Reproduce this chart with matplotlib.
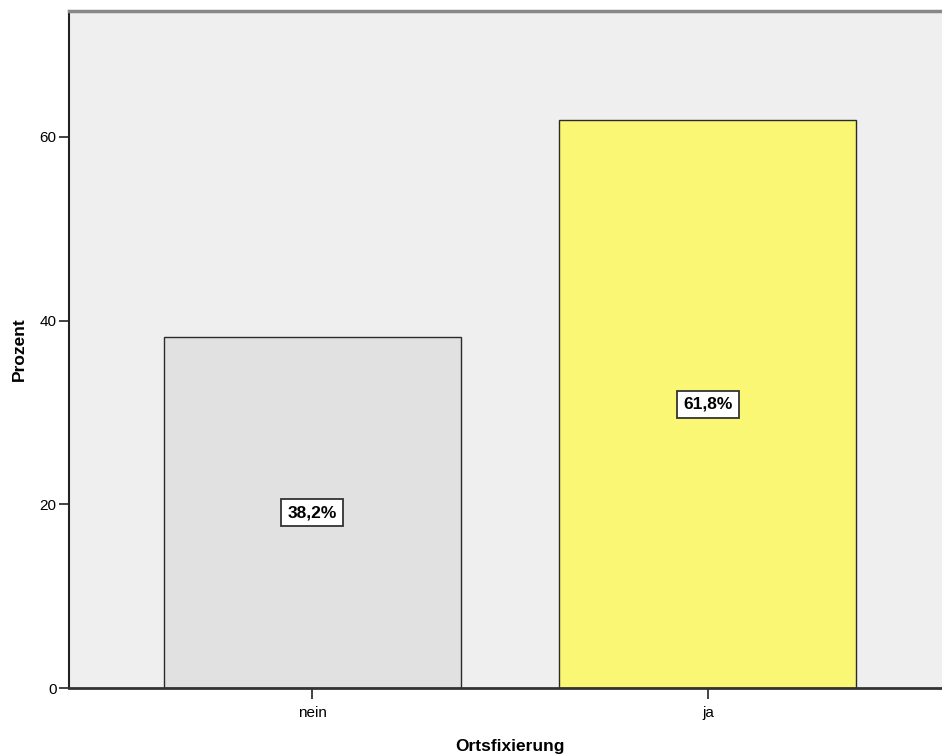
import matplotlib
matplotlib.use("Agg")
import matplotlib.pyplot as plt

categories = ["nein", "ja"]
values = [38.2, 61.8]
labels = ["38,2%", "61,8%"]
colors = ["#e1e1e1", "#f9f774"]
yticks = [0, 20, 40, 60]

plt.rcParams['font.family'] = ['Liberation Sans', 'DejaVu Sans']

fig = plt.figure(figsize=(9.42, 7.54), dpi=100)
ax = fig.add_axes([69/942, 66/754, (951-69)/942, (688-11)/754])
ax.set_facecolor("#efefef")

x = list(range(len(categories)))
ax.bar(x, values, width=0.75, color=colors, edgecolor="#2b2b2b", linewidth=1.0, zorder=2)
for xi, v, lab in zip(x, values, labels):
    ax.text(xi, v / 2, lab, ha="center", va="center", fontsize=12.5, fontweight="bold",
            family=['Liberation Sans Narrow', 'Liberation Sans', 'DejaVu Sans'],
            bbox=dict(boxstyle="square,pad=0.35", fc="white", ec="#333333", lw=1.3), zorder=3)

ax.set_xlim(-0.614, 1.614)
ax.set_ylim(0, 73.7)
ax.set_xticks(x)
ax.set_xticklabels(categories)
ax.set_yticks(yticks)
ax.tick_params(axis="both", labelsize=11, color="#222222", direction="out")
ax.tick_params(axis="y", length=7, width=1.2, pad=2)
ax.tick_params(axis="x", length=8, width=1.2, pad=5)

ax.spines["left"].set_color("#222222")
ax.spines["left"].set_linewidth(1.5)
ax.spines["bottom"].set_color("#333333")
ax.spines["bottom"].set_linewidth(2)
ax.spines["top"].set_color("#888888")
ax.spines["top"].set_linewidth(2.5)
ax.spines["right"].set_visible(False)

ax.set_ylabel("Prozent", fontsize=12.5, fontweight="bold", labelpad=9)
ax.set_xlabel("Ortsfixierung", fontsize=12.5, fontweight="bold", labelpad=14)

fig.savefig("out.png", dpi=100)
